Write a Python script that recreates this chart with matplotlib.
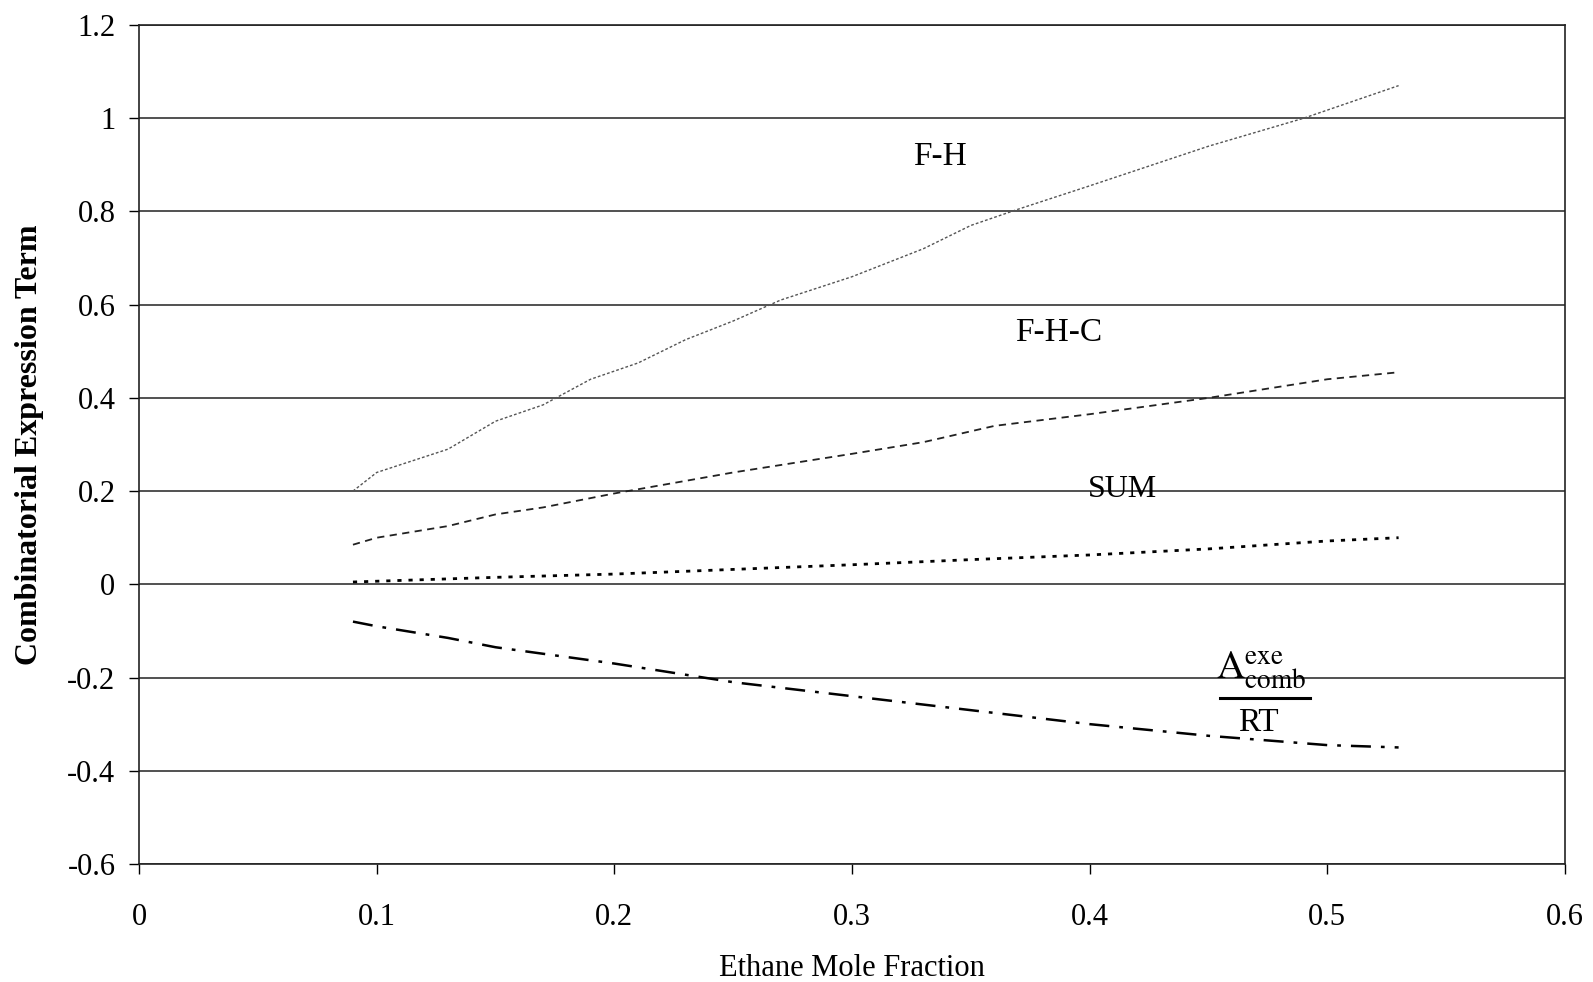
import matplotlib.pyplot as plt

plt.rcParams["font.family"] = ["Liberation Serif", "DejaVu Serif"]
plt.rcParams["mathtext.fontset"] = "stix"

# ethane mole fraction
x_fh = [0.09, 0.10, 0.13, 0.15, 0.17, 0.19, 0.21, 0.23, 0.25, 0.27, 0.30,
        0.33, 0.35, 0.37, 0.40, 0.45, 0.49, 0.53]
fh = [0.20, 0.24, 0.29, 0.35, 0.385, 0.44, 0.475, 0.525, 0.565, 0.61, 0.66,
      0.72, 0.77, 0.805, 0.855, 0.94, 1.00, 1.07]

x_fhc = [0.09, 0.10, 0.13, 0.15, 0.17, 0.20, 0.25, 0.30, 0.33, 0.36, 0.40,
         0.45, 0.50, 0.53]
fhc = [0.085, 0.10, 0.125, 0.15, 0.165, 0.195, 0.24, 0.28, 0.305, 0.34,
       0.365, 0.40, 0.44, 0.455]

x_sum = [0.09, 0.15, 0.20, 0.25, 0.30, 0.35, 0.40, 0.45, 0.50, 0.53]
sum_ = [0.005, 0.015, 0.022, 0.032, 0.042, 0.053, 0.063, 0.076, 0.093, 0.10]

x_comb = [0.09, 0.10, 0.13, 0.15, 0.20, 0.25, 0.30, 0.35, 0.40, 0.45, 0.50,
          0.53]
comb = [-0.08, -0.09, -0.115, -0.135, -0.17, -0.21, -0.24, -0.27, -0.30,
        -0.325, -0.345, -0.35]

fig = plt.figure(figsize=(15.93, 9.82), dpi=100)
ax = fig.add_axes([0.0873, 0.1202, 0.8951, 0.8543])

ax.plot(x_fh, fh, color="#555555", lw=1.0, linestyle=(0, (2, 1.5)))
ax.plot(x_fhc, fhc, color="#222222", lw=1.3, linestyle=(0, (4, 3)))
ax.plot(x_sum, sum_, color="black", lw=2.0, linestyle=(0, (1.5, 2.5)))
ax.plot(x_comb, comb, color="black", lw=1.8, linestyle=(0, (8, 4, 1.5, 4)))

ax.set_xlim(0, 0.6)
ax.set_ylim(-0.6, 1.2)
ax.set_xticks([0, 0.1, 0.2, 0.3, 0.4, 0.5, 0.6])
ax.set_xticklabels(["0", "0.1", "0.2", "0.3", "0.4", "0.5", "0.6"])
yt = [-0.6, -0.4, -0.2, 0, 0.2, 0.4, 0.6, 0.8, 1, 1.2]
ax.set_yticks(yt)
ax.set_yticklabels(["-0.6", "-0.4", "-0.2", "0", "0.2", "0.4", "0.6", "0.8",
                    "1", "1.2"])
ax.yaxis.grid(True, color="#222222", lw=1.1)
ax.set_axisbelow(True)
ax.tick_params(axis="both", direction="out", length=7, width=1.0,
               labelsize=22)
ax.tick_params(axis="y", pad=10)
ax.tick_params(axis="x", pad=21)
for s in ax.spines.values():
    s.set_linewidth(1.2)
    s.set_color("#222222")

ax.set_xlabel("Ethane Mole Fraction", fontsize=22)
ax.xaxis.set_label_coords(0.5, -0.107)
ax.set_ylabel("Combinatorial Expression Term", fontsize=23,
              fontweight="bold")
ax.yaxis.set_label_coords(-0.067, 0.5)

ax.text(0.337, 0.917, "F-H", fontsize=24, ha="center", va="center")
ax.text(0.387, 0.54, "F-H-C", fontsize=24, ha="center", va="center")
ax.text(0.414, 0.204, "SUM", fontsize=23, ha="center", va="center")
ax.text(0.472, -0.184, r"$\mathrm{A}_{\mathrm{comb}}^{\mathrm{exe}}$",
        fontsize=28, ha="center", va="center")
ax.plot([0.4548, 0.4927], [-0.244, -0.244], color="black", lw=2.2)
ax.text(0.471, -0.298, "RT", fontsize=24, ha="center", va="center")

fig.savefig("out.png", dpi=100)
